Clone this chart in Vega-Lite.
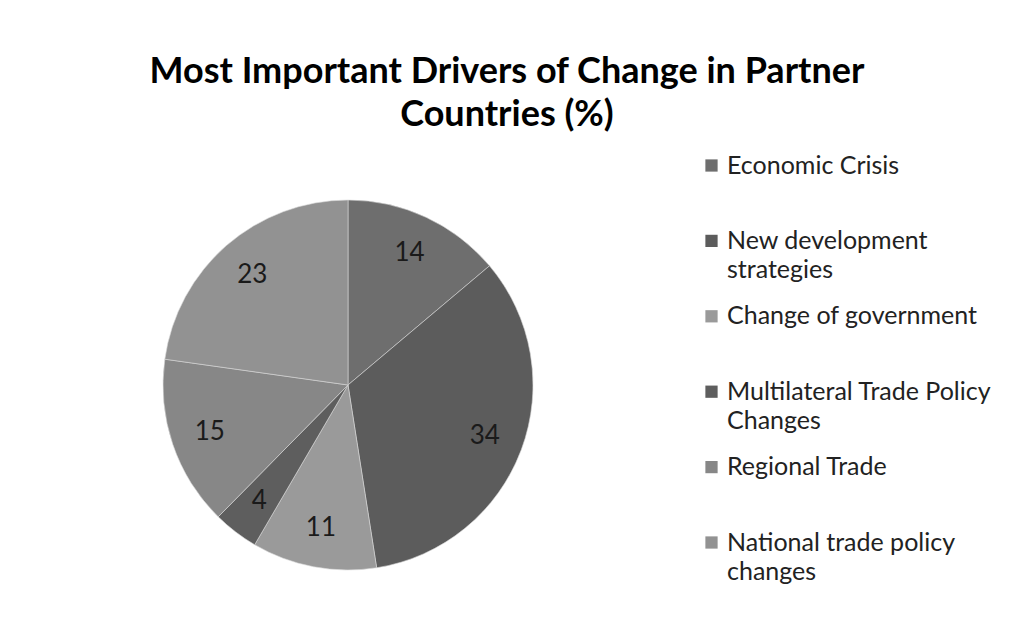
{
  "$schema": "https://vega.github.io/schema/vega-lite/v6.json",
  "width": 370,
  "height": 370,
  "autosize": "none",
  "padding": {"left": 163, "top": 200, "right": 488, "bottom": 51},
  "background": "white",
  "title": {
    "text": ["Most Important Drivers of Change in Partner", "Countries (%)"],
    "font": "Lato",
    "fontSize": 36,
    "fontWeight": "bold",
    "color": "#000000",
    "lineHeight": 43,
    "anchor": "middle",
    "frame": "group",
    "dx": 159,
    "offset": 19
  },
  "config": {
    "view": {"stroke": null},
    "style": {"guide-label": {"lineHeight": 29}}
  },
  "data": {
    "values": [
      {"driver": "Economic Crisis", "share": 14, "order": 1},
      {"driver": "New development strategies", "share": 34, "order": 2},
      {"driver": "Change of government", "share": 11, "order": 3},
      {"driver": "Multilateral Trade Policy Changes", "share": 4, "order": 4},
      {"driver": "Regional Trade", "share": 15, "order": 5},
      {"driver": "National trade policy changes", "share": 23, "order": 6}
    ]
  },
  "encoding": {
    "theta": {"field": "share", "type": "quantitative", "stack": true},
    "order": {"field": "order", "type": "quantitative"},
    "color": {
      "field": "driver",
      "type": "nominal",
      "sort": ["Economic Crisis", "New development strategies", "Change of government", "Multilateral Trade Policy Changes", "Regional Trade", "National trade policy changes"],
      "scale": {
        "domain": ["Economic Crisis", "New development strategies", "Change of government", "Multilateral Trade Policy Changes", "Regional Trade", "National trade policy changes"],
        "range": ["#6e6e6e", "#5c5c5c", "#9a9a9a", "#5e5e5e", "#878787", "#929292"]
      },
      "legend": {
        "title": null,
        "orient": "none",
        "legendX": 536,
        "legendY": -47,
        "symbolType": "square",
        "symbolSize": 150,
        "symbolStrokeWidth": 0,
        "labelFont": "Lato",
        "labelFontSize": 25,
        "labelColor": "#222222",
        "labelLineHeight": 29,
        "labelLimit": 400,
        "labelOffset": 3,
        "rowPadding": 20.4,
        "labelExpr": "datum.label == 'New development strategies' ? ['New development', 'strategies'] : datum.label == 'Multilateral Trade Policy Changes' ? ['Multilateral Trade Policy', 'Changes'] : datum.label == 'National trade policy changes' ? ['National trade policy', 'changes'] : [datum.label, '']"
      }
    }
  },
  "layer": [
    {
      "mark": {"type": "arc", "outerRadius": 185, "stroke": "#d8d8d8", "strokeWidth": 0.6}
    },
    {
      "mark": {"type": "text", "radius": 146, "font": "Lato", "fontSize": 26},
      "encoding": {
        "text": {"field": "share", "type": "quantitative"},
        "color": {"value": "#1a1a1a"}
      }
    }
  ]
}
